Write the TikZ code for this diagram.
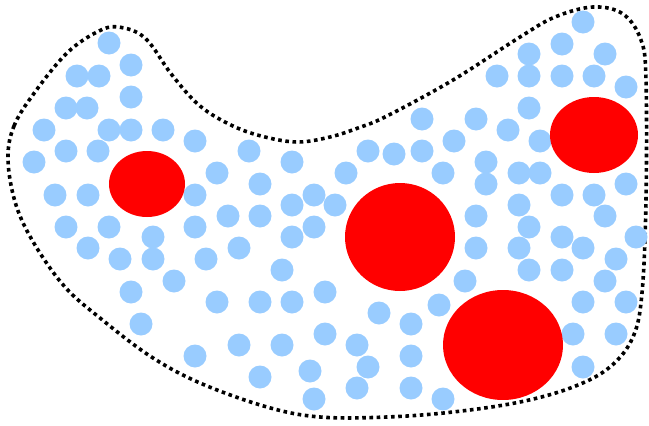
\documentclass[tikz,border=0pt]{standalone}
\usepackage{tikz}
\definecolor{cellBlue}{HTML}{99CCFF}
\definecolor{bigRed}{HTML}{FF0000}

\begin{document}
\begin{tikzpicture}[
    x=1pt, y=-1pt,
    boundary/.style={line width=3.6pt, dash pattern=on 3.6pt off 3.6pt, black},
    small/.style={fill=cellBlue, draw=none},
    large/.style={fill=bigRed, draw=none},
]
    \useasboundingbox (0,0) rectangle (649,426);

    % Outline of the region
    \draw[boundary] plot[smooth cycle, tension=0.6] coordinates {
        (8,160) (14,126) (35,92) (67,53) (97,32) (118,27) (145,38) (172,75)
        (200,106) (233,126) (265,137) (298,142) (330,137) (358,128) (387,116)
        (453,80) (520,37) (555,17) (593,7) (623,14) (641,40) (646,80)
        (646,200) (642,293) (633,337) (610,367) (573,387) (520,402) (453,412)
        (387,417) (320,417) (267,407) (200,383) (150,356) (100,318) (65,287)
        (35,245) (16,205)};

    % Small particles
    \foreach \px/\py in {
        583/22, 109/43, 562/44, 529/54, 605/54, 131/65,
        77/76, 99/76, 497/76, 529/76, 562/76, 594/76, 626/87, 131/97,
        66/108, 87/108, 529/108, 422/119, 476/119,
        44/130, 109/130, 131/130, 163/130, 508/130,
        195/141, 454/141, 540/141,
        66/151, 98/151, 249/151, 368/151, 394/154, 422/151,
        34/162, 292/162, 486/162,
        217/173, 346/173, 443/173, 519/173, 540/173,
        260/184, 486/184, 626/184,
        55/195, 88/195, 195/195, 314/195, 562/195, 594/195,
        292/205, 335/205, 519/205,
        228/216, 260/216, 476/216, 605/216,
        66/227, 109/227, 195/227, 314/227, 529/227,
        153/237, 292/237, 562/237, 636/237,
        88/248, 239/248, 476/248, 519/248, 583/248,
        120/259, 153/259, 206/259, 616/259,
        282/270, 529/270, 562/270,
        174/281, 465/281, 605/281,
        131/292, 325/292,
        217/302, 260/302, 292/302, 583/302, 626/302,
        379/313, 439/305,
        141/324, 411/324,
        325/334, 573/334, 616/334,
        239/345, 282/345, 357/345,
        195/356, 411/356,
        368/367, 583/367, 310/371, 260/377,
        357/388, 411/388, 314/399, 443/399}
        \fill[small] (\px,\py) circle[radius=11.5];

    % Large particles
    \fill[large] (147,184) ellipse[x radius=38, y radius=33];
    \fill[large] (594,135) ellipse[x radius=44, y radius=38];
    \fill[large] (400,237) ellipse[x radius=55, y radius=54];
    \fill[large] (503,345) ellipse[x radius=60, y radius=55];
\end{tikzpicture}
\end{document}
